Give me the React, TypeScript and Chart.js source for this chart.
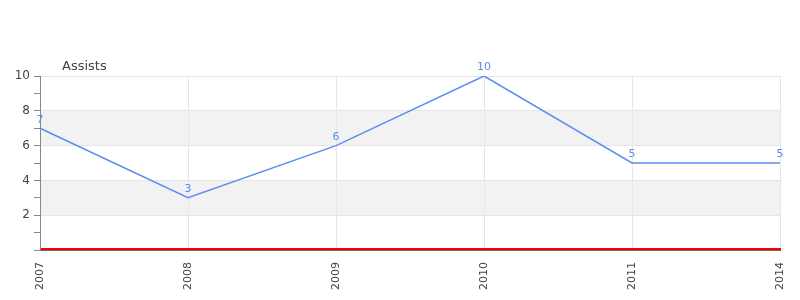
import React, { useEffect, useRef } from "react";
import { Chart, registerables } from "chart.js";

Chart.register(...registerables);

const categories = ["2007", "2008", "2009", "2010", "2011", "2014"];
const assists = [7, 3, 6, 10, 5, 5];
const seriesName = "Assists";
const bands = [
  [2, 4],
  [6, 8],
];

const FONT = "'DejaVu Sans', sans-serif";

const extras = {
  id: "extras",
  beforeDraw(chart: any) {
    const { ctx, chartArea, scales } = chart;
    const y = scales.y;
    ctx.save();
    ctx.fillStyle = "#f2f2f2";
    for (const [a, b] of bands) {
      const y1 = y.getPixelForValue(b);
      const y2 = y.getPixelForValue(a);
      ctx.fillRect(chartArea.left, y1, chartArea.right - chartArea.left, y2 - y1);
    }
    ctx.restore();
  },
  afterDraw(chart: any) {
    const { ctx, chartArea, scales } = chart;
    const meta = chart.getDatasetMeta(0);
    ctx.save();
    ctx.font = `11px ${FONT}`;
    ctx.fillStyle = "#5b8def";
    ctx.textAlign = "center";
    ctx.textBaseline = "bottom";
    meta.data.forEach((pt: any, i: number) => {
      ctx.fillText(String(assists[i]), pt.x, pt.y - 3);
    });
    // axis line + zero line
    const y0 = Math.round(scales.y.getPixelForValue(0));
    const l = Math.round(chartArea.left);
    const r = Math.round(chartArea.right);
    ctx.fillStyle = "#666";
    ctx.fillRect(l, y0, r - l + 1, 1);
    ctx.fillStyle = "#ff0000";
    ctx.fillRect(l + 1, y0 - 2, r - l, 2);
    // title
    ctx.font = `13px ${FONT}`;
    ctx.fillStyle = "#444";
    ctx.textAlign = "left";
    ctx.textBaseline = "alphabetic";
    ctx.fillText(seriesName, chartArea.left + 22, chartArea.top - 6);
    ctx.restore();
  },
};

export default function App() {
  const ref = useRef<HTMLCanvasElement>(null);
  useEffect(() => {
    document.body.style.margin = "0";
    const chart = new Chart(ref.current!, {
      type: "line",
      data: {
        labels: categories,
        datasets: [
          {
            label: seriesName,
            data: assists,
            borderColor: "#5b8def",
            borderWidth: 1.5,
            pointRadius: 0,
            fill: false,
            tension: 0,
          },
        ],
      },
      options: {
        responsive: false,
        animation: false,
        layout: { padding: { top: 76, right: 20, left: 0, bottom: 0 } },
        plugins: { legend: { display: false }, tooltip: { enabled: false } },
        scales: {
          x: {
            offset: false,
            grid: { color: "#e6e6e6", drawTicks: false },
            border: { display: false },
            ticks: {
              minRotation: 90,
              maxRotation: 90,
              padding: 12,
              color: "#444",
              font: { family: FONT, size: 11 },
            },
            afterFit(scale: any) {
              scale.height = 50;
              scale.paddingLeft = 0;
              scale.paddingRight = 0;
            },
          },
          y: {
            min: 0,
            max: 10,
            grid: {
              color: (c: any) => (c.tick && c.tick.value % 2 === 0 && c.tick.value > 0 ? "#e6e6e6" : "rgba(0,0,0,0)"),
              tickColor: "#888",
              tickLength: 6,
            },
            border: { color: "#888", width: 1 },
            ticks: {
              stepSize: 1,
              autoSkip: false,
              padding: 4,
              color: "#444",
              font: { family: FONT, size: 12 },
              callback: (v: any) => (v % 2 === 0 && v > 0 ? String(v) : ""),
            },
            afterFit(scale: any) {
              scale.width = 40;
              scale.paddingTop = 0;
              scale.paddingBottom = 0;
            },
          },
        },
      },
      plugins: [extras],
    });
    return () => chart.destroy();
  }, []);
  return (
    <div style={{ width: 800, height: 300 }}>
      <canvas ref={ref} width={800} height={300} />
    </div>
  );
}
